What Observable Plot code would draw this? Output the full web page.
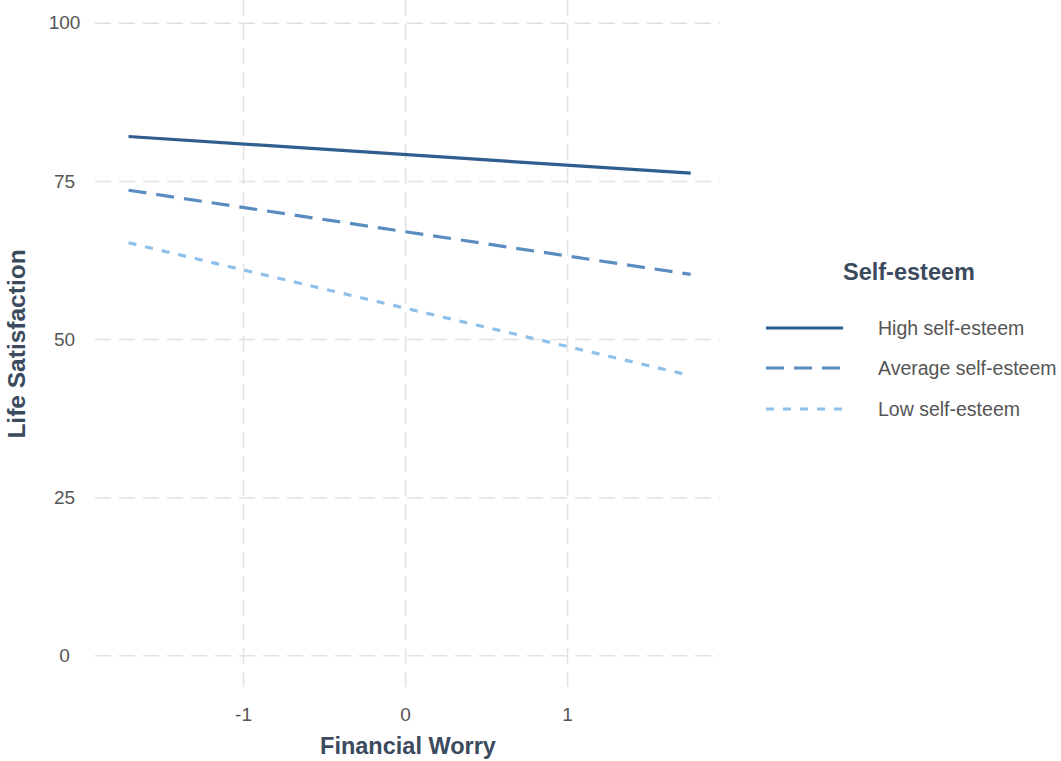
<!DOCTYPE html>
<html>
<head>
<meta charset="utf-8">
<script src="https://cdn.jsdelivr.net/npm/d3@7"></script>
<script src="https://cdn.jsdelivr.net/npm/@observablehq/plot@0.6"></script>
<style>
  html, body { margin: 0; padding: 0; background: #fff; }
  #wrap { position: relative; width: 1061px; height: 761px; font-family: "Liberation Sans", Arial, sans-serif; }
  #legend { position: absolute; left: 0; top: 0; pointer-events: none; }
</style>
</head>
<body>
<div id="wrap"></div>
<script>
// ---- data ----
const levels = ["High self-esteem", "Average self-esteem", "Low self-esteem"];
const worry = [-1.71, 1.76];
const highVals = [82.1, 76.3];
const avgVals = [73.6, 60.3];
const lowVals = [65.3, 44.3];
const xTicks = [-1, 0, 1];
const yTicks = [0, 25, 50, 75, 100];
const colors = ["#2f5d8e", "#5a8cc0", "#8fc0ea"];
const dashes = [null, "18,10", "8,9"];

const series = [highVals, avgVals, lowVals];
const rows = [];
levels.forEach((lev, i) => {
  worry.forEach((w, j) => rows.push({level: lev, worry: w, sat: series[i][j]}));
});

const gridStyle = {stroke: "#e2e2e2", strokeOpacity: 1, strokeWidth: 1.5, strokeDasharray: "16,8"};
const titleColor = "#3b4a5c";
const tickColor = "#555555";

const chart = Plot.plot({
  width: 1061,
  height: 761,
  marginLeft: 95,
  marginRight: 341,
  marginTop: 0,
  marginBottom: 74,
  style: {fontFamily: "Liberation Sans, Arial, sans-serif", background: "#fff"},
  x: {domain: [-1.914, 1.944]},
  y: {domain: [-5, 103.6]},
  marks: [
    Plot.gridX(xTicks, gridStyle),
    Plot.gridY(yTicks, gridStyle),
    ...levels.map((lev, i) =>
      Plot.line(rows.filter(d => d.level === lev), {
        x: "worry", y: "sat",
        stroke: colors[i], strokeWidth: 3.2,
        strokeDasharray: dashes[i] || undefined,
        strokeLinecap: "butt"
      })
    ),
    Plot.axisX(xTicks, {tickSize: 0, tickPadding: 20, fontSize: 19, fill: tickColor, label: null, tickFormat: d => String(d)}),
    Plot.axisY(yTicks, {tickSize: 0, tickPadding: 31, textAnchor: "middle", fontSize: 19, fill: tickColor, label: null, tickFormat: d => String(d)}),
    Plot.text(["Financial Worry"], {frameAnchor: "bottom", dy: 59, fontSize: 23.5, fontWeight: "bold", fill: titleColor, textAnchor: "middle", lineAnchor: "middle"}),
    Plot.text(["Life Satisfaction"], {frameAnchor: "left", rotate: -90, dx: -78, fontSize: 24.5, fontWeight: "bold", fill: titleColor, textAnchor: "middle"})
  ]
});

const wrap = document.getElementById("wrap");
wrap.appendChild(chart);

// ---- legend overlay ----
const svg = d3.select(wrap).append("svg")
  .attr("id", "legend").attr("width", 1061).attr("height", 761)
  .style("font-family", "Liberation Sans, Arial, sans-serif");

svg.append("text").attr("x", 843).attr("y", 272).attr("dy", "0.35em")
  .attr("font-size", 23.5).attr("font-weight", "bold").attr("fill", titleColor)
  .text("Self-esteem");

const rowY = [328, 368, 409];
levels.forEach((lev, i) => {
  svg.append("line").attr("x1", 766).attr("x2", 843).attr("y1", rowY[i]).attr("y2", rowY[i])
    .attr("stroke", colors[i]).attr("stroke-width", 3.2)
    .attr("stroke-dasharray", dashes[i] || null);
  svg.append("text").attr("x", 878).attr("y", rowY[i]).attr("dy", "0.35em")
    .attr("font-size", 19.5).attr("fill", tickColor).text(lev);
});
</script>
</body>
</html>
